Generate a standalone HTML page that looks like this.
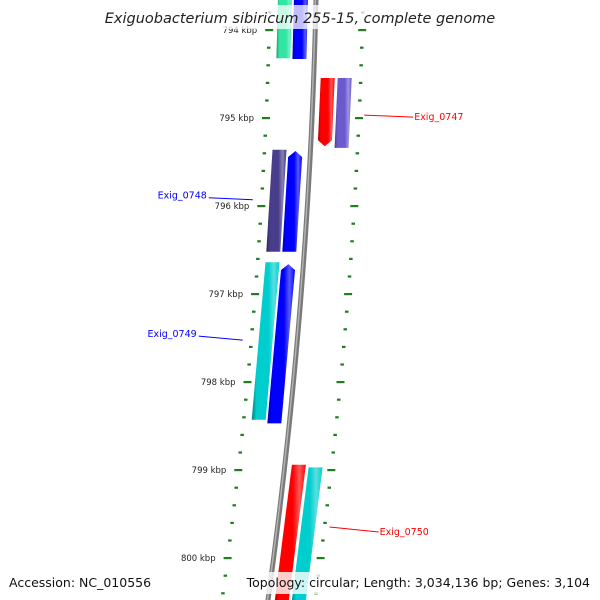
<!DOCTYPE html>
<html><head><meta charset="utf-8"><style>
body{margin:0;background:#fff;}
svg{display:block;font-family:"DejaVu Sans","Liberation Sans",sans-serif;}
</style></head><body>
<svg id="map" width="600" height="600" viewBox="0 0 600 600" xmlns="http://www.w3.org/2000/svg">
<defs id="defs"></defs>
<g id="ticks"></g>
<path id="backbone" fill="none" stroke="#7a7a7a" stroke-width="5"/>
<path id="backbone-hl" fill="none" stroke="#b4b4b4" stroke-width="1.4"/>
<g id="genes"></g>
<g id="labels"></g>
<rect x="108" y="5" width="386" height="24" fill="#fff" opacity="0.75"/>
<text x="300" y="23" text-anchor="middle" font-size="14.5" font-style="italic" fill="#222">Exiguobacterium sibiricum 255-15, complete genome</text>
<rect x="4" y="572" width="146" height="22" fill="#fff" opacity="0.8"/>
<text x="9" y="587" font-size="12.5" fill="#111">Accession: NC_010556</text>
<rect x="257" y="572" width="337" height="22" fill="#fff" opacity="0.8"/>
<text x="590" y="587" text-anchor="end" font-size="12.5" fill="#111">Topology: circular; Length: 3,034,136 bp; Genes: 3,104</text>
</svg>
<script>
// data
const majorTicks = [794, 795, 796, 797, 798, 799, 800];
const tickLabels = ["794 kbp","795 kbp","796 kbp","797 kbp","798 kbp","799 kbp","800 kbp"];
const geneNames = ["g0745","g0746","Exig_0747","g0747b","Exig_0748","g0748b","Exig_0749","g0749b","Exig_0750","g0750b"];
const geneStart = [793.4, 793.4, 794.545, 794.545, 795.36, 795.375, 796.64, 796.66, 798.94, 798.97];
const geneEnd   = [794.32, 794.33, 795.32, 795.34, 796.52, 796.52, 798.43, 798.47, 800.6, 800.6];
const geneLane  = [-2, -1, 1, 2, -2, -1, -2, -1, 1, 2];
const geneArrow = [0, 0, 1, 0, 0, -1, 0, -1, 0, 0];
const geneColor = ["#30e6a2","#0000ff","#ff0000","#6a5acd","#483d8b","#0000ff","#00cdcd","#0000ff","#ff0000","#00cdcd"];
const labelGenes = [2, 4, 6, 8];
const labelColor = ["#ff0000","#0000ff","#0000ff","#ff0000"];

// axis functions
const NS="http://www.w3.org/2000/svg";
function yOf(k){ return 30 + (k-794)*88; }
function bbX(y){ return 316 - 0.0222*y - 9.63e-5*y*y; }
function laneOff(l){ return l===-2?-31:l===-1?-15:l===1?14:31; }
function el(t,a,p){const e=document.createElementNS(NS,t);for(const k in a)e.setAttribute(k,a[k]);p.appendChild(e);return e;}

// backbone
let d="";
for(let y=-5;y<=605;y+=5){d+=(y===-5?"M":"L")+bbX(y).toFixed(2)+" "+y;}
document.getElementById("backbone").setAttribute("d",d);
let d2="";
for(let y=-5;y<=605;y+=5){d2+=(y===-5?"M":"L")+(bbX(y)-0.6).toFixed(2)+" "+y;}
document.getElementById("backbone-hl").setAttribute("d",d2);

// ticks
const tg=document.getElementById("ticks");
for(let k=793.6;k<=800.6;k+=0.2){
  const kr=Math.round(k*10)/10;
  const y=yOf(kr);
  const major=Math.abs(kr-Math.round(kr))<0.01;
  const w=major?8:3.5;
  [-46,47].forEach(off=>{
    const x=bbX(y)+off;
    const r=el("rect",{x:(x-w/2).toFixed(1),y:(y-1).toFixed(1),width:w,height:2.2,fill:"#1f7f1f"},tg);
    
    
  });
}
majorTicks.forEach((k,i)=>{
  const y=yOf(k);
  const t=el("text",{x:(bbX(y)-58).toFixed(1),y:(y+3).toFixed(1),"text-anchor":"end","font-size":"8.5",fill:"#222"},tg);
  
  
  t.textContent=tickLabels[i];
});

// genes
const defs=document.getElementById("defs");
function shade(c,f){const n=parseInt(c.slice(1),16);let r=n>>16,g=(n>>8)&255,b=n&255;
  if(f<0){r*=1+f;g*=1+f;b*=1+f;}else{r+=(255-r)*f;g+=(255-g)*f;b+=(255-b)*f;}
  return "rgb("+[r,g,b].map(v=>Math.round(v)).join(",")+")";}
const gg=document.getElementById("genes");
geneNames.forEach((n,i)=>{
  const c=geneColor[i];
  const gr=el("linearGradient",{id:"gr"+i,x1:"0",x2:"1",y1:"0",y2:"0"},defs);
  [[0,shade(c,-0.35)],[0.18,c],[0.6,c],[0.8,shade(c,0.35)],[1,c]].forEach(s=>el("stop",{offset:s[0],"stop-color":s[1]},gr));
  const y1=yOf(geneStart[i]), y2=yOf(geneEnd[i]);
  const off=laneOff(geneLane[i]), hw=7;
  const pts=[];
  const ah=6;
  const top = geneArrow[i]===-1 ? y1+ah : y1;
  const bot = geneArrow[i]===1 ? y2-ah : y2;
  if(geneArrow[i]===-1){pts.push([bbX(y1)+off,y1]);}
  pts.push([bbX(top)+off+hw,top]);
  pts.push([bbX(bot)+off+hw,bot]);
  if(geneArrow[i]===1){pts.push([bbX(y2)+off,y2]);}
  pts.push([bbX(bot)+off-hw,bot]);
  pts.push([bbX(top)+off-hw,top]);
  const p=el("polygon",{points:pts.map(q=>q[0].toFixed(1)+","+q[1].toFixed(1)).join(" "),fill:"url(#gr"+i+")"},gg);
  
  
});

// labels (leader lines offset slightly for layout)
const lg=document.getElementById("labels");
const labelDy=[3,-3,-5,-2];
const labelSlope=[2,2,4,5];
labelGenes.forEach((gi,j)=>{
  const ym=(yOf(geneStart[gi])+yOf(Math.min(geneEnd[gi],800.2)))/2;
  const right=geneLane[gi]>0;
  const yy = (gi===8 ? 529 : ym) + labelDy[j];
  const x0=bbX(yy)+(right?52:-55);
  const x1=right?x0+49:x0-44;
  const y2=yy+labelSlope[j];
  const ln=el("line",{x1:x0.toFixed(1),y1:(right?yy:y2).toFixed(1),x2:x1.toFixed(1),y2:(right?y2:yy).toFixed(1),stroke:labelColor[j],"stroke-width":"1"},lg);
  
  
  const ty = right ? y2+3 : yy+1;
  const t=el("text",{x:(right?x1+1:x1-2).toFixed(1),y:ty.toFixed(1),"text-anchor":right?"start":"end","font-size":"9.5",fill:labelColor[j]},lg);
  
  
  t.textContent=geneNames[gi];
});
</script>
</body></html>
